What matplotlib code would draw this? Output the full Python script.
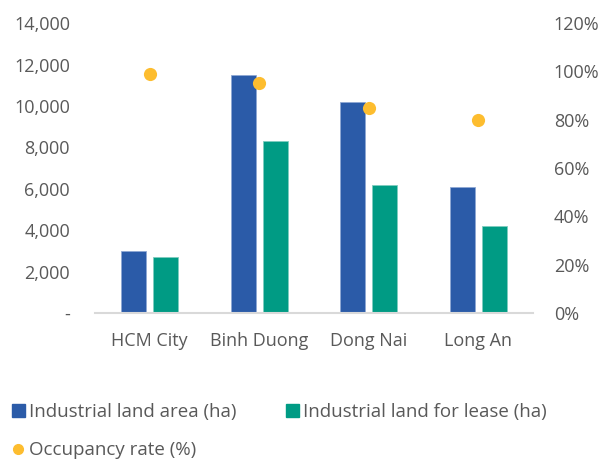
import numpy as np
import matplotlib.pyplot as plt
from matplotlib.patches import Patch
from matplotlib.lines import Line2D
from matplotlib.ticker import FuncFormatter

plt.rcParams['font.family'] = ['Open Sans', 'DejaVu Sans']

provinces = ['HCM City', 'Binh Duong', 'Dong Nai', 'Long An']
land_area = [3000, 11500, 10200, 6100]
land_lease = [2700, 8300, 6200, 4200]
occupancy = [99, 95, 85, 80]

c_blue = '#2B5BA8'
c_green = '#009B84'
c_yellow = '#FDBD2F'
c_text = '#595959'

fig = plt.figure(figsize=(6.03, 4.62), dpi=100)
ax = fig.add_axes([0.1575, 0.3225, 0.7265, 0.6275])
ax2 = ax.twinx()

x = np.arange(len(provinces))
w = 0.23
off = 0.145
ax.bar(x - off, land_area, w, color=c_blue, edgecolor='#8FA8D4', linewidth=0.6)
ax.bar(x + off, land_lease, w, color=c_green, edgecolor='#7FCDBF', linewidth=0.6)
ax2.scatter(x, occupancy, s=90, color=c_yellow, zorder=5, linewidths=0)

ax.set_xlim(-0.5, len(provinces) - 0.5)
ax.set_ylim(0, 14000)
ax.set_yticks(np.arange(0, 14001, 2000))
ax.yaxis.set_major_formatter(FuncFormatter(lambda v, p: '-' if v == 0 else f'{v:,.0f}'))
ax2.set_ylim(0, 120)
ax2.set_yticks(np.arange(0, 121, 20))
ax2.yaxis.set_major_formatter(FuncFormatter(lambda v, p: f'{v:.0f}%'))

ax.set_xticks(x)
ax.set_xticklabels(provinces)

for a in (ax, ax2):
    for s in a.spines.values():
        s.set_visible(False)
    a.tick_params(length=0, colors=c_text, labelsize=13)
ax.spines['bottom'].set_visible(True)
ax.spines['bottom'].set_color('#D9D9D9')
ax.spines['bottom'].set_linewidth(1.5)
ax.tick_params(axis='y', pad=18)
ax.tick_params(axis='x', pad=14)
ax2.tick_params(axis='y', pad=15)

handles = [
    Patch(color=c_blue, label='Industrial land area (ha)'),
    Line2D([], [], marker='o', color=c_yellow, linestyle='none', markersize=7,
           label='Occupancy rate (%)'),
    Patch(color=c_green, label='Industrial land for lease (ha)'),
]
leg = fig.legend(handles=handles, ncol=2, loc='upper left', bbox_to_anchor=(0.007, 0.143),
                 frameon=False, fontsize=13.5, handlelength=0.7, handleheight=0.7,
                 handletextpad=0.2, columnspacing=2.65, labelspacing=1.05, borderaxespad=0)
for t in leg.get_texts():
    t.set_color(c_text)

fig.savefig('out.png', dpi=100)
